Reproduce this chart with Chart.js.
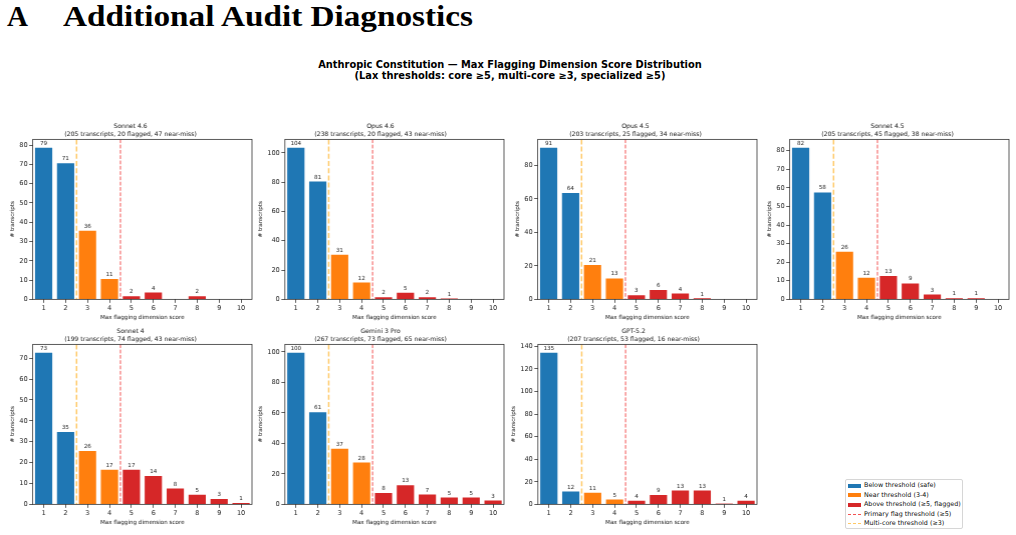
<!DOCTYPE html>
<html><head><meta charset="utf-8">
<script src="https://cdn.jsdelivr.net/npm/chart.js@4/dist/chart.umd.min.js"></script>
<style>
body{margin:0;width:1016px;height:535px;background:#fff;position:relative;overflow:hidden;font-family:"DejaVu Sans",sans-serif;}
.abs{position:absolute;}
.heading{font-family:"Liberation Serif",serif;font-weight:bold;font-size:29px;line-height:29px;color:#000;white-space:nowrap;transform-origin:0 0;}
#suptitle{left:0;width:1020px;top:58.5px;text-align:center;font-weight:bold;font-size:9.85px;line-height:11px;color:#000;}
#legend{left:845px;top:479px;width:116px;height:48px;border:1px solid #d6d6d6;border-radius:2px;background:#fff;}
.lrow{position:absolute;left:0;height:9px;width:116px;}
.lpatch{position:absolute;left:2px;width:13px;}
.ltext{position:absolute;left:18px;font-family:"DejaVu Sans",sans-serif;font-size:6.4px;line-height:9px;color:#111;white-space:nowrap;top:0;}
</style></head><body>
<div class="abs heading" style="left:7px;top:2.2px;">A</div>
<div id="htext" class="abs heading" style="left:63px;top:2.2px;">Additional Audit Diagnostics</div>
<div id="suptitle" class="abs">Anthropic Constitution — Max Flagging Dimension Score Distribution<br>(Lax thresholds: core ≥5, multi-core ≥3, specialized ≥5)</div>
<div id="legend" class="abs"></div>
<script>
// ---- data ----
const scores = ['1','2','3','4','5','6','7','8','9','10'];
const models = ['Sonnet 4.6','Opus 4.6','Opus 4.5','Sonnet 4.5','Sonnet 4','Gemini 3 Pro','GPT-5.2'];
const subtitles = [
  '(205 transcripts, 20 flagged, 47 near-miss)',
  '(238 transcripts, 20 flagged, 43 near-miss)',
  '(203 transcripts, 25 flagged, 34 near-miss)',
  '(205 transcripts, 45 flagged, 38 near-miss)',
  '(199 transcripts, 74 flagged, 43 near-miss)',
  '(267 transcripts, 73 flagged, 65 near-miss)',
  '(207 transcripts, 53 flagged, 16 near-miss)'
];
const sonnet46 = [79,71,36,11,2,4,0,2,0,0];
const opus46   = [104,81,31,12,2,5,2,1,0,0];
const opus45   = [91,64,21,13,3,6,4,1,0,0];
const sonnet45 = [82,58,26,12,13,9,3,1,1,0];
const sonnet4  = [73,35,26,17,17,14,8,5,3,1];
const gemini3  = [100,61,37,28,8,13,7,5,5,3];
const gpt52    = [135,12,11,5,4,9,13,13,1,4];
const seriesList = [sonnet46, opus46, opus45, sonnet45, sonnet4, gemini3, gpt52];
const yTickSteps = [10,20,20,10,10,20,20];
const multiCoreThreshold = 3;   // near threshold starts
const primaryThreshold = 5;     // flagged threshold
const legendLabels = ['Below threshold (safe)','Near threshold (3-4)','Above threshold (≥5, flagged)','Primary flag threshold (≥5)','Multi-core threshold (≥3)'];

// ---- styles / layout ----
const C_BLUE='#1f77b4', C_ORANGE='#ff7f0e', C_RED='#d62728';
const LINE_RED='rgba(240,40,40,0.8)', LINE_ORANGE='rgba(255,165,0,0.6)';
const colLefts=[33,285,538,790], rowTops=[139,344];
const PW=219, PH=160;
const FONT='"DejaVu Sans", sans-serif';

// heading width fit (serif face narrower than the original's)
(function(){
  const el=document.getElementById('htext');
  const w=el.getBoundingClientRect().width;
  el.style.transform='scaleX('+(410/w)+')';
})();

// legend
const legend=document.getElementById('legend');
const legendStyles=[
  {type:'patch',color:C_BLUE},{type:'patch',color:C_ORANGE},{type:'patch',color:C_RED},
  {type:'line',color:LINE_RED,w:1},{type:'line',color:LINE_ORANGE,w:1.5}
];
legendLabels.forEach((t,i)=>{
  const row=document.createElement('div');row.className='lrow';row.style.top=(1+i*9.6)+'px';
  const st=legendStyles[i];
  const p=document.createElement('div');p.className='lpatch';
  if(st.type==='patch'){p.style.top='2.5px';p.style.height='4px';p.style.background=st.color;}
  else{p.style.top=(4.5-st.w/2)+'px';p.style.height='0';p.style.borderTop=st.w+'px dashed '+st.color;}
  row.appendChild(p);
  const s=document.createElement('span');s.className='ltext';s.textContent=t;row.appendChild(s);
  legend.appendChild(row);
});

const decor={
  id:'decor',
  afterDatasetsDraw(chart,args,opts){
    const ctx=chart.ctx,a=chart.chartArea,xs=chart.scales.x;
    ctx.save();
    const meta=chart.getDatasetMeta(0);
    const vals=chart.data.datasets[0].data;
    ctx.font='5.6px '+FONT;ctx.fillStyle='#222';ctx.textAlign='center';ctx.textBaseline='bottom';
    meta.data.forEach((bar,k)=>{ if(vals[k]>0) ctx.fillText(String(vals[k]),bar.x,bar.y-0.8); });
    opts.lines.forEach(l=>{
      const x=xs.getPixelForValue(l.score-1.5);
      ctx.strokeStyle=l.color;ctx.lineWidth=l.width;ctx.setLineDash(l.dash);
      ctx.beginPath();ctx.moveTo(x,a.top);ctx.lineTo(x,a.bottom);ctx.stroke();
    });
    ctx.setLineDash([]);
    ctx.strokeStyle='#333';ctx.lineWidth=0.8;
    ctx.strokeRect(a.left,a.top,a.right-a.left,a.bottom-a.top);
    ctx.restore();
  }
};

function barColor(s){const n=+s; return n>=primaryThreshold?C_RED:(n>=multiCoreThreshold?C_ORANGE:C_BLUE);}

function makeChart(i,left,top,w,h){
  const wrap=document.createElement('div');wrap.className='abs';
  wrap.style.left=left+'px';wrap.style.top=top+'px';wrap.style.width=w+'px';wrap.style.height=h+'px';
  const cv=document.createElement('canvas');cv.width=w;cv.height=h;cv.style.width=w+'px';cv.style.height=h+'px';
  wrap.appendChild(cv);document.body.appendChild(wrap);
  const data=seriesList[i];
  const yMax=Math.max(...data)*1.05;
  const tickFont={family:FONT,size:6.6};
  const gridCfg={display:true,drawOnChartArea:false,drawTicks:true,tickLength:3.5,color:'#333',lineWidth:0.8,offset:false};
  const chart=new Chart(cv,{
    type:'bar',
    data:{labels:scores,datasets:[{data:data,backgroundColor:scores.map(barColor),borderColor:'#fff',borderWidth:0.8,barPercentage:0.86,categoryPercentage:1}]},
    options:{
      responsive:false,animation:false,devicePixelRatio:1,
      layout:{padding:{top:0,right:3,bottom:0,left:0}},
      plugins:{
        legend:{display:false},tooltip:{enabled:false},
        title:{display:true,text:[models[i],subtitles[i]],font:{family:FONT,size:6.15,weight:'normal',lineHeight:1.25},color:'#111',padding:{top:0,bottom:1}},
        decor:{lines:[
          {score:multiCoreThreshold,color:LINE_ORANGE,width:1.5,dash:[5,2.2]},
          {score:primaryThreshold,color:LINE_RED,width:1,dash:[3.7,1.6]}
        ]}
      },
      scales:{
        x:{type:'category',offset:true,grid:gridCfg,border:{display:false},
           ticks:{font:tickFont,color:'#222',padding:1,maxRotation:0,autoSkip:false},
           title:{display:true,text:'Max flagging dimension score',font:{family:FONT,size:5.6},color:'#111',padding:{top:1.5,bottom:0}}},
        y:{min:0,max:yMax,grid:gridCfg,border:{display:false},
           ticks:{stepSize:yTickSteps[i],includeBounds:false,font:tickFont,color:'#222',padding:1.5},
           title:{display:true,text:'# transcripts',font:{family:FONT,size:5.6},color:'#111',padding:{top:0,bottom:2}}}
      }
    },
    plugins:[decor]
  });
  return {chart,wrap};
}

for(let i=0;i<7;i++){
  const col=i%4,row=Math.floor(i/4);
  const pl=colLefts[col],pt=rowTops[row];
  let w=280,h=220;
  let r=makeChart(i,0,0,w,h);
  let a=r.chart.chartArea;
  w=w-(a.right-a.left)+PW; h=h-(a.bottom-a.top)+PH;
  r.chart.destroy();r.wrap.remove();
  r=makeChart(i,0,0,w,h);
  a=r.chart.chartArea;
  r.wrap.style.left=(pl-a.left)+'px';r.wrap.style.top=(pt-a.top)+'px';
}
</script>
</body></html>
